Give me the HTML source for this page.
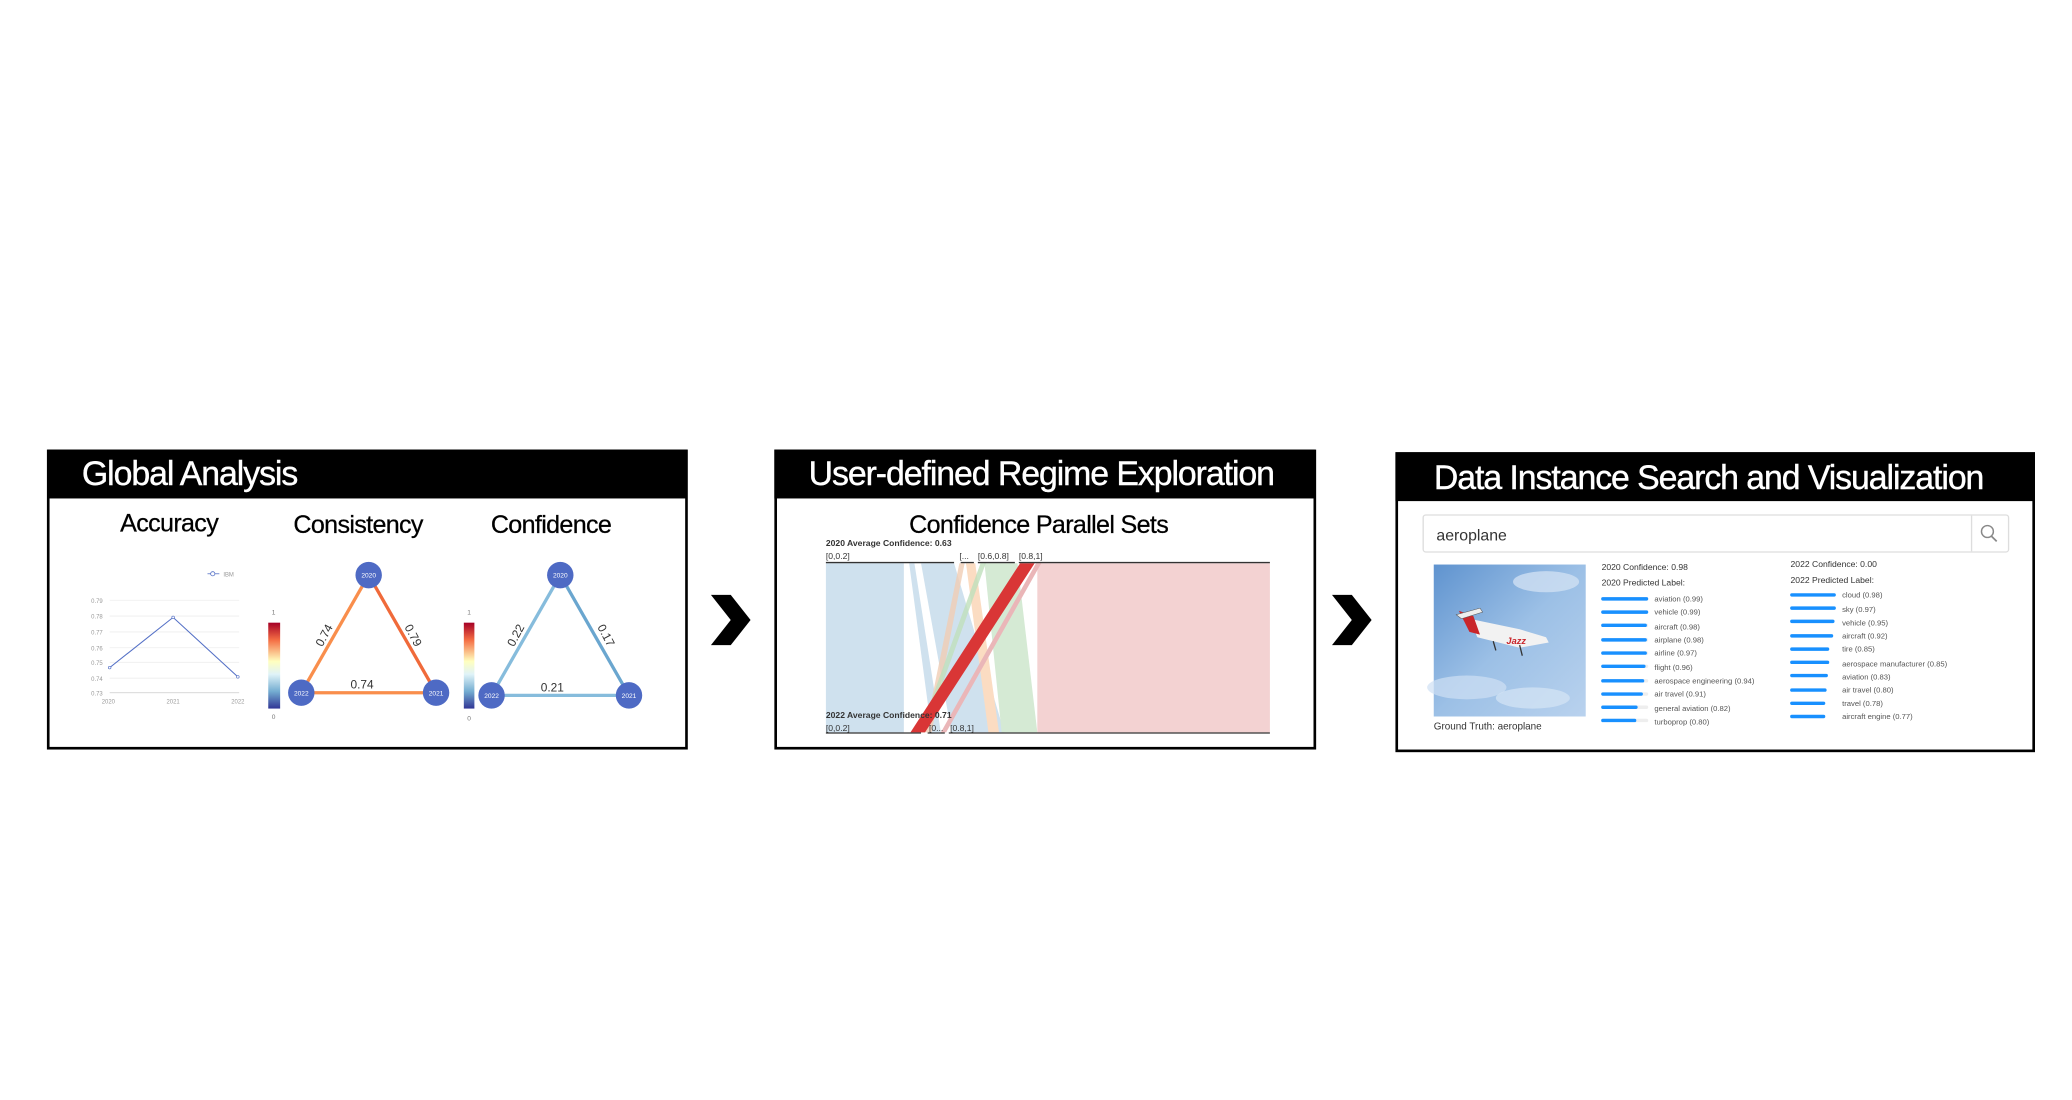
<!DOCTYPE html>
<html><head><meta charset="utf-8"><style>
html,body{margin:0;padding:0;background:#fff;width:2072px;height:1100px;overflow:hidden}
svg{display:block}
text{font-family:"Liberation Sans",sans-serif}
</style></head><body>
<svg width="2072" height="1100" viewBox="0 0 1568 832" xmlns="http://www.w3.org/2000/svg">
<defs>
<linearGradient id="cb" x1="0" y1="0" x2="0" y2="1">
<stop offset="0" stop-color="#a50026"/><stop offset="0.2" stop-color="#f46d43"/><stop offset="0.45" stop-color="#ffffbf"/><stop offset="0.6" stop-color="#e0f3f8"/><stop offset="0.8" stop-color="#74add1"/><stop offset="1" stop-color="#313695"/>
</linearGradient>
<linearGradient id="sky" x1="0" y1="0" x2="1" y2="1">
<stop offset="0" stop-color="#5f93cf"/><stop offset="0.5" stop-color="#9cc0e6"/><stop offset="1" stop-color="#b9d2ee"/>
</linearGradient>
</defs>

<!-- Panel 1 -->
<rect x="36.5" y="341" width="483" height="225" fill="#fff" stroke="#000" stroke-width="2"/>
<rect x="36" y="340" width="484" height="37" fill="#000"/>
<text x="62" y="367" font-size="25.6" fill="#fff" stroke="#fff" stroke-width="0.3" letter-spacing="-0.8">Global Analysis</text>
<text x="128" y="402" font-size="19" text-anchor="middle" letter-spacing="-0.5" stroke="#000" stroke-width="0.2">Accuracy</text>
<text x="271" y="403" font-size="19" text-anchor="middle" letter-spacing="-0.5" stroke="#000" stroke-width="0.2">Consistency</text>
<text x="417" y="403" font-size="19" text-anchor="middle" letter-spacing="-0.5" stroke="#000" stroke-width="0.2">Confidence</text>
<!-- line chart -->
<g font-size="4.5" fill="#999">
<line x1="83" y1="454" x2="181" y2="454" stroke="#eee" stroke-width="0.6"/>
<line x1="83" y1="466" x2="181" y2="466" stroke="#eee" stroke-width="0.6"/>
<line x1="83" y1="478" x2="181" y2="478" stroke="#eee" stroke-width="0.6"/>
<line x1="83" y1="490" x2="181" y2="490" stroke="#eee" stroke-width="0.6"/>
<line x1="83" y1="501" x2="181" y2="501" stroke="#eee" stroke-width="0.6"/>
<line x1="83" y1="513" x2="181" y2="513" stroke="#eee" stroke-width="0.6"/>
<line x1="83" y1="524" x2="181" y2="524" stroke="#ccc" stroke-width="0.6"/>
<text x="69" y="456">0.79</text><text x="69" y="468">0.78</text><text x="69" y="480">0.77</text><text x="69" y="492">0.76</text><text x="69" y="503">0.75</text><text x="69" y="515">0.74</text><text x="69" y="526">0.73</text>
<text x="77" y="532">2020</text><text x="126" y="532">2021</text><text x="175" y="532">2022</text>
<text x="169" y="436">IBM</text>
</g>
<line x1="157" y1="434" x2="166" y2="434" stroke="#5470c6" stroke-width="0.6"/><circle cx="161" cy="434" r="1.6" fill="#fff" stroke="#5470c6" stroke-width="0.6"/>
<polyline points="83,505 131,467 180,512" fill="none" stroke="#5470c6" stroke-width="0.8"/>
<circle cx="83" cy="505" r="1" fill="#fff" stroke="#5470c6" stroke-width="0.5"/><circle cx="131" cy="467" r="1" fill="#fff" stroke="#5470c6" stroke-width="0.5"/><circle cx="180" cy="512" r="1" fill="#fff" stroke="#5470c6" stroke-width="0.5"/>
<!-- consistency -->
<rect x="203" y="471" width="9" height="65" fill="url(#cb)"/>
<text x="207" y="465" font-size="5" fill="#777" text-anchor="middle">1</text>
<text x="207" y="544" font-size="5" fill="#777" text-anchor="middle">0</text>
<line x1="228" y1="524" x2="279" y2="435" stroke="#f98e4c" stroke-width="2.5"/>
<line x1="279" y1="435" x2="330" y2="524" stroke="#f06a3a" stroke-width="2.5"/>
<line x1="228" y1="524" x2="330" y2="524" stroke="#f98e4c" stroke-width="2.5"/>
<text x="274" y="521" font-size="9" fill="#333" text-anchor="middle">0.74</text>
<text transform="translate(248,482) rotate(-62)" font-size="9" fill="#333" text-anchor="middle">0.74</text>
<text transform="translate(310,482) rotate(62)" font-size="9" fill="#333" text-anchor="middle">0.79</text>
<g fill="#4e6ac4"><circle cx="279" cy="435" r="10"/><circle cx="228" cy="524" r="10"/><circle cx="330" cy="524" r="10"/></g>
<g font-size="5" fill="#fff" text-anchor="middle"><text x="279" y="437">2020</text><text x="228" y="526">2022</text><text x="330" y="526">2021</text></g>
<!-- confidence -->
<rect x="351" y="471" width="8" height="65" fill="url(#cb)"/>
<text x="355" y="465" font-size="5" fill="#777" text-anchor="middle">1</text>
<text x="355" y="545" font-size="5" fill="#777" text-anchor="middle">0</text>
<line x1="372" y1="526" x2="424" y2="435" stroke="#86bcdc" stroke-width="2.5"/>
<line x1="424" y1="435" x2="476" y2="526" stroke="#6aa6cf" stroke-width="2.5"/>
<line x1="372" y1="526" x2="476" y2="526" stroke="#86bcdc" stroke-width="2.5"/>
<text x="418" y="523" font-size="9" fill="#333" text-anchor="middle">0.21</text>
<text transform="translate(393,482) rotate(-62)" font-size="9" fill="#333" text-anchor="middle">0.22</text>
<text transform="translate(456,482) rotate(62)" font-size="9" fill="#333" text-anchor="middle">0.17</text>
<g fill="#4e6ac4"><circle cx="424" cy="435" r="10"/><circle cx="372" cy="526" r="10"/><circle cx="476" cy="526" r="10"/></g>
<g font-size="5" fill="#fff" text-anchor="middle"><text x="424" y="437">2020</text><text x="372" y="528">2022</text><text x="476" y="528">2021</text></g>

<!-- chevrons -->
<polygon points="538,450 553,450 568,469 553,488 538,488 553,469" fill="#000"/>
<polygon points="1008,450 1023,450 1038,469 1023,488 1008,488 1023,469" fill="#000"/>

<!-- Panel 2 -->
<rect x="587" y="341" width="408" height="225" fill="#fff" stroke="#000" stroke-width="2"/>
<rect x="586" y="340" width="409" height="37" fill="#000"/>
<text x="788" y="367" font-size="25.6" fill="#fff" stroke="#fff" stroke-width="0.3" text-anchor="middle" letter-spacing="-0.8">User-defined Regime Exploration</text>
<text x="786" y="403" font-size="19" text-anchor="middle" letter-spacing="-0.5" stroke="#000" stroke-width="0.2">Confidence Parallel Sets</text>
<g>
<rect x="625" y="426" width="59" height="128" fill="#cfe1ee"/>
<polygon points="688,426 722,426 760,554 705,554" fill="#cfe1ee"/>
<polygon points="692,426 697,426 720,554 712,554" fill="#fff"/>
<polygon points="785,426 961,426 961,554 785,554" fill="#f3d2d2"/>
<polygon points="745,426 770,426 785,554 758,554" fill="#d5ead4"/>
<polygon points="731,426 738,426 756,554 748,554" fill="#fbdcc2"/>
<polygon points="726,426 730,426 705,554 700,554" fill="#f0cdb4" opacity="0.8"/>
<polygon points="742,426 746,426 700,554 696,554" fill="#bfe0bb" opacity="0.8"/>
<polygon points="784,426 788,426 716,554 712,554" fill="#eab6b8"/>
<polygon points="772,426 783,426 700,554 689,554" fill="#d93636"/>
</g>
<line x1="625" y1="425.5" x2="722" y2="425.5" stroke="#333" stroke-width="1"/>
<line x1="727" y1="425.5" x2="737" y2="425.5" stroke="#333" stroke-width="1"/>
<line x1="740" y1="425.5" x2="768" y2="425.5" stroke="#333" stroke-width="1"/>
<line x1="771" y1="425.5" x2="961" y2="425.5" stroke="#333" stroke-width="1"/>
<line x1="625" y1="554.5" x2="697" y2="554.5" stroke="#333" stroke-width="1"/>
<line x1="702" y1="554.5" x2="715" y2="554.5" stroke="#333" stroke-width="1"/>
<line x1="718" y1="554.5" x2="961" y2="554.5" stroke="#333" stroke-width="1"/>
<g font-size="6.5" fill="#333">
<text x="625" y="413" font-weight="bold">2020 Average Confidence: 0.63</text>
<text x="625" y="423">[0,0.2]</text><text x="726" y="423">[...</text><text x="740" y="423">[0.6,0.8]</text><text x="771" y="423">[0.8,1]</text>
<text x="625" y="543" font-weight="bold">2022 Average Confidence: 0.71</text>
<text x="625" y="553">[0,0.2]</text><text x="703" y="553">[0...</text><text x="719" y="553">[0.8,1]</text>
</g>

<!-- Panel 3 -->
<rect x="1057" y="343" width="482" height="225" fill="#fff" stroke="#000" stroke-width="2"/>
<rect x="1056" y="342" width="484" height="37" fill="#000"/>
<text x="1293" y="370" font-size="25.6" fill="#fff" stroke="#fff" stroke-width="0.3" text-anchor="middle" letter-spacing="-0.8">Data Instance Search and Visualization</text>
<rect x="1077" y="389.5" width="443" height="28" fill="#fff" stroke="#ddd" stroke-width="1" rx="2"/>
<line x1="1492" y1="390" x2="1492" y2="417" stroke="#ddd" stroke-width="1"/>
<circle cx="1504" cy="402" r="4.5" fill="none" stroke="#888" stroke-width="1.1"/>
<line x1="1507" y1="405.5" x2="1511" y2="409.5" stroke="#888" stroke-width="1.3"/>
<text x="1087" y="409" font-size="12" fill="#333">aeroplane</text>
<rect x="1085" y="427" width="115" height="115" fill="url(#sky)"/>
<ellipse cx="1170" cy="440" rx="25" ry="8" fill="#cfe0f3" opacity="0.8"/>
<ellipse cx="1110" cy="520" rx="30" ry="9" fill="#cfe0f3" opacity="0.7"/>
<ellipse cx="1160" cy="528" rx="28" ry="8" fill="#d6e5f5" opacity="0.7"/>
<polygon points="1112,468 1150,476 1170,482 1172,486 1150,490 1118,482" fill="#f2f2f2"/>
<polygon points="1104,462 1115,466 1120,480 1112,478" fill="#c9262b"/>
<polygon points="1102,465 1120,460 1122,463 1106,468" fill="#eee" stroke="#555" stroke-width="0.4"/>
<text x="1140" y="487" font-size="7" fill="#c9262b" font-style="italic" font-weight="bold">Jazz</text>
<line x1="1130" y1="485" x2="1132" y2="492" stroke="#333" stroke-width="1"/>
<line x1="1150" y1="488" x2="1152" y2="496" stroke="#333" stroke-width="1"/>
<text x="1085" y="552" font-size="7.5" fill="#333">Ground Truth: aeroplane</text>
<g font-size="6.5" fill="#333">
<text x="1212" y="431">2020 Confidence: 0.98</text>
<text x="1212" y="443">2020 Predicted Label:</text>
<text x="1355" y="429">2022 Confidence: 0.00</text>
<text x="1355" y="441">2022 Predicted Label:</text>
</g>
<g font-size="5.8" fill="#555">
<text x="1252" y="455">aviation (0.99)</text>
<text x="1252" y="465">vehicle (0.99)</text>
<text x="1252" y="476">aircraft (0.98)</text>
<text x="1252" y="486">airplane (0.98)</text>
<text x="1252" y="496">airline (0.97)</text>
<text x="1252" y="507">flight (0.96)</text>
<text x="1252" y="517">aerospace engineering (0.94)</text>
<text x="1252" y="527">air travel (0.91)</text>
<text x="1252" y="538">general aviation (0.82)</text>
<text x="1252" y="548">turboprop (0.80)</text>
<text x="1394" y="452">cloud (0.98)</text>
<text x="1394" y="463">sky (0.97)</text>
<text x="1394" y="473">vehicle (0.95)</text>
<text x="1394" y="483">aircraft (0.92)</text>
<text x="1394" y="493">tire (0.85)</text>
<text x="1394" y="504">aerospace manufacturer (0.85)</text>
<text x="1394" y="514">aviation (0.83)</text>
<text x="1394" y="524">air travel (0.80)</text>
<text x="1394" y="534">travel (0.78)</text>
<text x="1394" y="544">aircraft engine (0.77)</text>
</g>
<g stroke-linecap="round" stroke-width="2.6">
<g stroke="#eee">
<line x1="1213" y1="453" x2="1246" y2="453"/><line x1="1213" y1="463" x2="1246" y2="463"/><line x1="1213" y1="473" x2="1246" y2="473"/><line x1="1213" y1="484" x2="1246" y2="484"/><line x1="1213" y1="494" x2="1246" y2="494"/><line x1="1213" y1="504" x2="1246" y2="504"/><line x1="1213" y1="515" x2="1246" y2="515"/><line x1="1213" y1="525" x2="1246" y2="525"/><line x1="1213" y1="535" x2="1246" y2="535"/><line x1="1213" y1="545" x2="1246" y2="545"/>
</g>
<g stroke="#1890ff">
<line x1="1213" y1="453" x2="1246" y2="453"/><line x1="1213" y1="463" x2="1246" y2="463"/><line x1="1213" y1="473" x2="1245" y2="473"/><line x1="1213" y1="484" x2="1245" y2="484"/><line x1="1213" y1="494" x2="1245" y2="494"/><line x1="1213" y1="504" x2="1244" y2="504"/><line x1="1213" y1="515" x2="1243" y2="515"/><line x1="1213" y1="525" x2="1242" y2="525"/><line x1="1213" y1="535" x2="1238" y2="535"/><line x1="1213" y1="545" x2="1237" y2="545"/>
<line x1="1356" y1="450" x2="1388" y2="450"/><line x1="1356" y1="460" x2="1388" y2="460"/><line x1="1356" y1="470" x2="1387" y2="470"/><line x1="1356" y1="481" x2="1386" y2="481"/><line x1="1356" y1="491" x2="1383" y2="491"/><line x1="1356" y1="501" x2="1383" y2="501"/><line x1="1356" y1="511" x2="1382" y2="511"/><line x1="1356" y1="522" x2="1381" y2="522"/><line x1="1356" y1="532" x2="1380" y2="532"/><line x1="1356" y1="542" x2="1380" y2="542"/>
</g>
</g>
</svg>
</body></html>
